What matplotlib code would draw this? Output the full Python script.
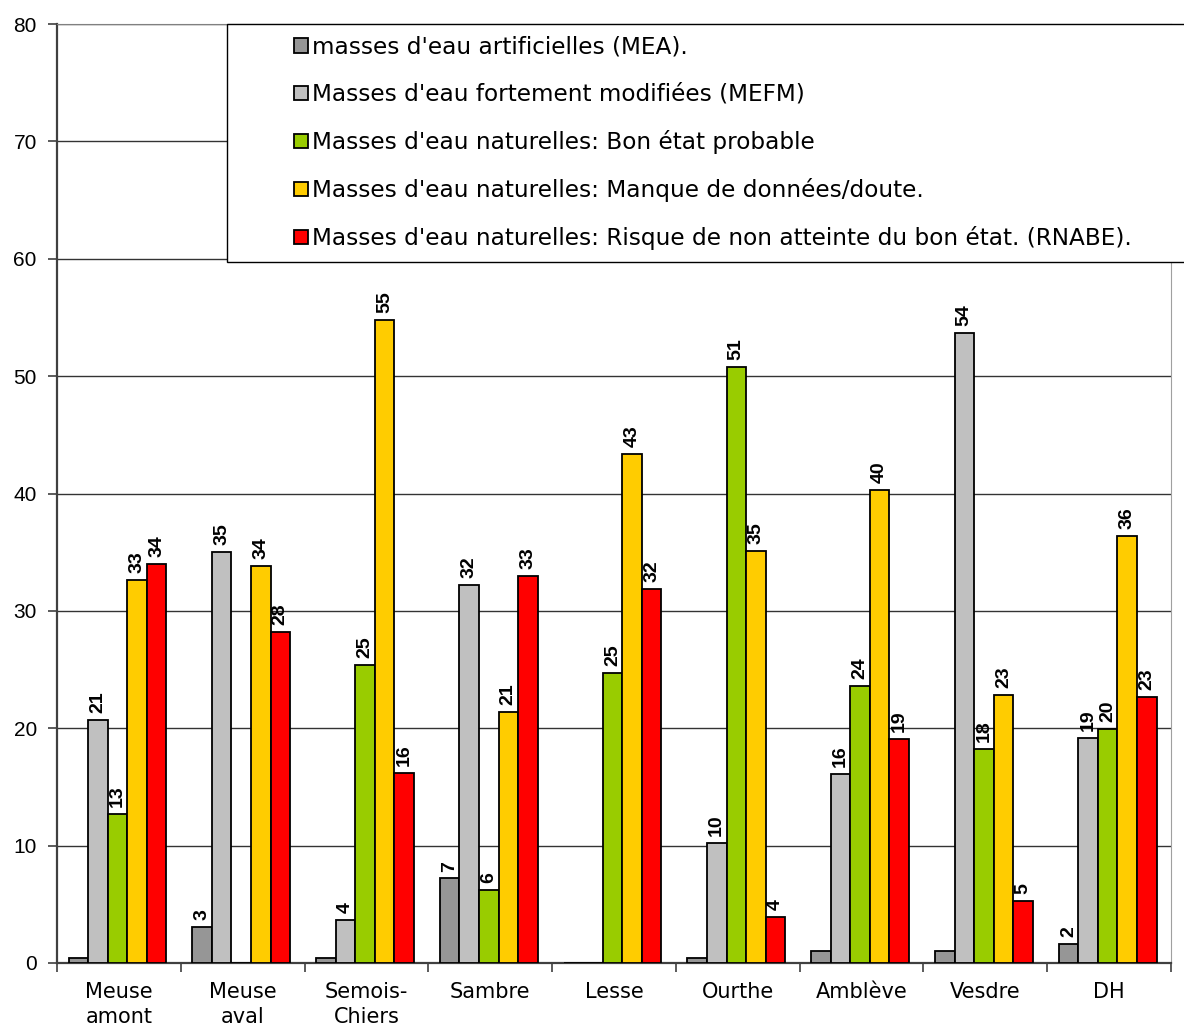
import matplotlib
matplotlib.use("Agg")
import matplotlib.pyplot as plt
import numpy as np
from matplotlib.patches import Rectangle
from matplotlib.legend_handler import HandlerPatch

plt.rcParams['font.family'] = ['DejaVu Sans']

categories = ["Meuse\namont", "Meuse\naval", "Semois-\nChiers", "Sambre", "Lesse",
              "Ourthe", "Amblève", "Vesdre", "DH"]

series_names = [
    "masses d'eau artificielles (MEA).",
    "Masses d'eau fortement modifiées (MEFM)",
    "Masses d'eau naturelles: Bon état probable",
    "Masses d'eau naturelles: Manque de données/doute.",
    "Masses d'eau naturelles: Risque de non atteinte du bon état. (RNABE).",
]

mea = [0.4, 3.1, 0.4, 7.2, 0.0, 0.4, 1.0, 1.0, 1.6]
mefm = [20.7, 35.0, 3.7, 32.2, 0.0, 10.2, 16.1, 53.7, 19.2]
bon_etat = [12.7, 0.0, 25.4, 6.2, 24.7, 50.8, 23.6, 18.2, 19.9]
manque = [32.6, 33.8, 54.8, 21.4, 43.4, 35.1, 40.3, 22.8, 36.4]
rnabe = [34.0, 28.2, 16.2, 33.0, 31.9, 3.9, 19.1, 5.3, 22.7]

series_values = [mea, mefm, bon_etat, manque, rnabe]
colors = ["#969696", "#C0C0C0", "#99CC00", "#FFCC00", "#FF0000"]

W, H = 1184, 1026
fig = plt.figure(figsize=(W / 100, H / 100), dpi=100)
ax = fig.add_axes([57 / W, 63 / H, (1171 - 57) / W, 939 / H])

x = np.arange(len(categories))
bar_w = 0.158
handles = []
for j, (vals, col, name) in enumerate(zip(series_values, colors, series_names)):
    pos = x + (j - 2) * bar_w - 0.012
    bars = ax.bar(pos, vals, width=bar_w, color=col, edgecolor="black",
                  linewidth=1.3, label=name, zorder=3)
    handles.append(bars.patches[0])
    for xi, v in zip(pos, vals):
        if v >= 1.5:
            ax.annotate(f"{v:.0f}", xy=(xi, v), xytext=(0, 5),
                        textcoords="offset points", rotation=90,
                        ha="center", va="bottom", fontsize=14,
                        family="Liberation Sans", fontweight="bold", zorder=4)

ax.set_xlim(-0.5, len(categories) - 0.5)
ax.set_ylim(0, 80)
ax.set_yticks(np.arange(0, 81, 10))
ax.yaxis.grid(True, color="#333333", linewidth=1.0, zorder=0)
ax.set_axisbelow(True)

ax.set_xticks(x)
ax.set_xticklabels(categories, fontsize=15, linespacing=1.28)
ax.set_xticks(np.arange(-0.5, len(categories), 1.0), minor=True)
ax.tick_params(axis="x", which="major", length=0, pad=14)
ax.tick_params(axis="x", which="minor", length=6.5, width=1.2, color="#404040")
ax.tick_params(axis="y", length=6.5, width=1.2, color="#404040", labelsize=15, pad=8)
for lbl in ax.get_yticklabels():
    lbl.set_family("Liberation Sans")

for side in ("left", "bottom"):
    ax.spines[side].set_color("#404040")
    ax.spines[side].set_linewidth(1.6)
ax.spines["right"].set_color("#A0A0A0")
ax.spines["top"].set_color("#808080")


def square_at_right(legend, orig_handle, xdescent, ydescent, width, height, fontsize):
    s = 0.61 * fontsize
    return Rectangle((-xdescent + width - s, -ydescent + (height - s) / 2), s, s)


leg = fig.legend(handles, series_names, loc="upper left",
                 bbox_to_anchor=(227 / W, 1 - 24 / H, (1195 - 227) / W, 0),
                 mode="expand", borderaxespad=0, fontsize=16.7, frameon=True,
                 fancybox=False, edgecolor="black", framealpha=1, borderpad=0.5,
                 labelspacing=1.04, handlelength=3.0, handletextpad=0.17,
                 handler_map={Rectangle: HandlerPatch(patch_func=square_at_right)})
leg.get_frame().set_linewidth(1.0)

fig.savefig("out.png", dpi=100)
